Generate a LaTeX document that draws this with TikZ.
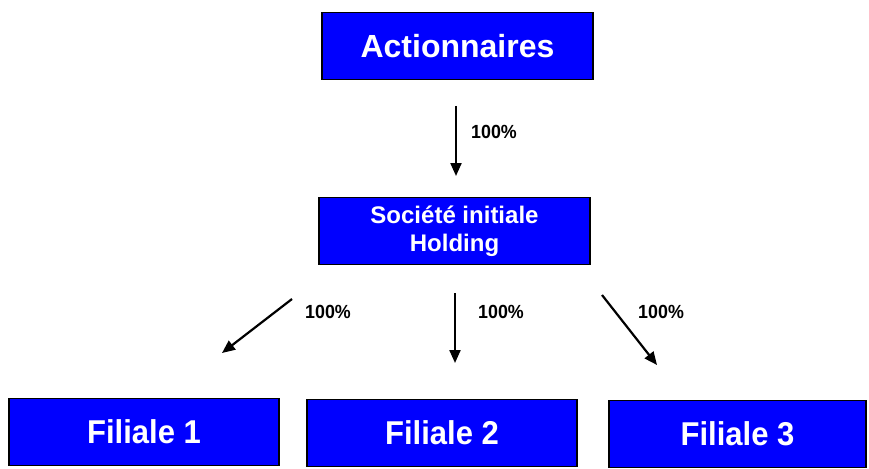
\documentclass[tikz,border=0pt]{standalone}
\usepackage{fontspec}
\setmainfont{Liberation Sans}
\newfontfamily\narrowfont[FakeStretch=0.94]{Liberation Sans}
\usetikzlibrary{positioning,arrows.meta}
\tikzset{
  >={Triangle[length=13pt,width=11pt]},
  box/.style  ={draw=black, line width=1.2pt, fill=boxblue, text=white,
                font=\bfseries\fontsize{32}{36}\selectfont,
                minimum width=270pt, minimum height=67pt, inner sep=0pt},
  fil/.style  ={box, font=\narrowfont\bfseries\fontsize{33}{38}\selectfont},
  pct/.style  ={anchor=west, font=\narrowfont\bfseries\fontsize{19}{22}\selectfont, inner sep=0pt},
  share/.style={line width=2.2pt, ->},
}
\definecolor{boxblue}{RGB}{0,0,255}
\begin{document}
\begin{tikzpicture}[x=1pt,y=-1pt]
  \useasboundingbox (0,0) rectangle (869,468);

  % top
  \node[box, minimum width=271pt] (act) at (457.5,46) {Actionnaires};
  \node[box, minimum width=271pt, align=center,
        font=\bfseries\fontsize{24}{28}\selectfont] (hold) at (454.5,231)
        {Société initiale\\Holding};

  % subsidiaries
  \node[fil] (fil1) at (144,432) {Filiale 1};
  \node[fil] (fil2) at (442,433) {Filiale 2};
  \node[fil, minimum width=257pt] (fil3) at (737.5,434) {Filiale 3};

  % arrow ends
  \coordinate (a0) at (456,106);
  \coordinate (b0) at (456,176);
  \coordinate (a1) at (292,299);
  \coordinate (b1) at (222,353);
  \coordinate (a2) at (455,293);
  \coordinate (b2) at (455,363);
  \coordinate (a3) at (602,295);
  \coordinate (b3) at (657,365);

  \draw[share] (a0) -- (b0);
  \draw[share] (a1) -- (b1);
  \draw[share] (a2) -- (b2);
  \draw[share] (a3) -- (b3);

  \node[pct] (p0) at (471,132) {100\%};
  \node[pct] (p1) at (305,312) {100\%};
  \node[pct] (p2) at (478,312) {100\%};
  \node[pct] (p3) at (638,312) {100\%};
\end{tikzpicture}
\end{document}
